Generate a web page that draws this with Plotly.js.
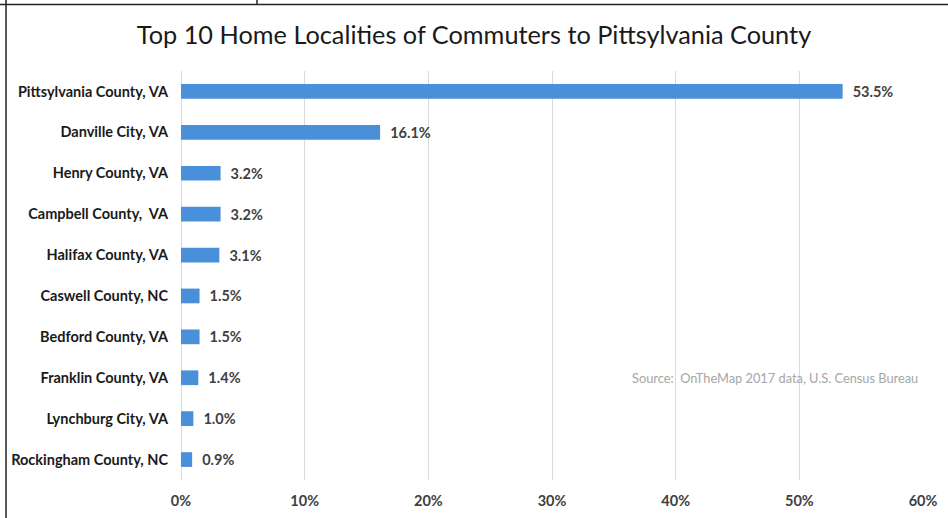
<!DOCTYPE html>
<html>
<head>
<meta charset="utf-8">
<script src="https://cdn.plot.ly/plotly-3.0.1.min.js"></script>
<style>
html,body{margin:0;padding:0;background:#fff;}
#chart{width:948px;height:518px;}
</style>
</head>
<body>
<div id="chart"></div>
<script>
// Data
const localities = [
  "Pittsylvania County, VA",
  "Danville City, VA",
  "Henry County, VA",
  "Campbell County,  VA",
  "Halifax County, VA",
  "Caswell County, NC",
  "Bedford County, VA",
  "Franklin County, VA",
  "Lynchburg City, VA",
  "Rockingham County, NC"
];
const shares = [53.5, 16.1, 3.2, 3.2, 3.1, 1.5, 1.5, 1.4, 1.0, 0.9];
const xTickVals = [0, 10, 20, 30, 40, 50, 60];
const xTickText = ["0%", "10%", "20%", "30%", "40%", "50%", "60%"];
const titleText = "Top 10 Home Localities of Commuters to Pittsylvania County";
const sourceText = "Source:  OnTheMap 2017 data, U.S. Census Bureau";

const W = 948, H = 518;
const M = {l: 181, r: 25, t: 71, b: 38};
const pw = W - M.l - M.r, ph = H - M.t - M.b;
const px = x => (x - M.l) / pw;
const py = y => 1 - (y - M.t) / ph;

const baseFont = "Lato, 'Open Sans', 'Liberation Sans', sans-serif";

const trace = {
  type: "bar",
  orientation: "h",
  y: localities,
  x: shares,
  marker: {color: "#4a8fd9"},
  width: 0.36,
  text: shares.map(v => "  " + v.toFixed(1) + "%"),
  textposition: "outside",
  constraintext: "none",
  cliponaxis: false,
  textfont: {family: baseFont, size: 14.5, color: "#404040", weight: "bold"},
  hoverinfo: "none"
};

const lineStyle = {color: "#222", width: 1.5};
const layout = {
  width: W, height: H,
  margin: M,
  paper_bgcolor: "#fff",
  plot_bgcolor: "#fff",
  showlegend: false,
  title: {
    text: titleText,
    x: 0.5, xref: "container", xanchor: "center",
    y: 1 - 35 / H, yref: "container", yanchor: "middle",
    font: {family: baseFont, size: 25.3, color: "#1a1a1a"}
  },
  xaxis: {
    range: [0, 60],
    tickvals: xTickVals,
    ticktext: xTickText,
    showgrid: true,
    gridcolor: "#d9d9d9",
    gridwidth: 1,
    zeroline: true,
    zerolinecolor: "#d9d9d9",
    zerolinewidth: 1,
    showline: false,
    ticks: "",
    ticklabelstandoff: 10,
    tickfont: {family: baseFont, size: 14.5, color: "#404040", weight: "bold"},
    fixedrange: true
  },
  yaxis: {
    autorange: "reversed",
    type: "category",
    showgrid: false,
    zeroline: false,
    showline: false,
    ticks: "",
    ticklabelstandoff: 12,
    tickfont: {family: baseFont, size: 14.5, color: "#1a1a1a", weight: "bold"},
    fixedrange: true
  },
  annotations: [{
    text: sourceText,
    xref: "paper", yref: "paper",
    x: px(920), y: py(378),
    xanchor: "right", yanchor: "middle",
    showarrow: false,
    font: {family: baseFont, size: 12.8, color: "#a6a6a6"}
  }],
  shapes: [
    {type: "line", xref: "paper", yref: "paper", x0: px(0), x1: px(948), y0: py(4.5), y1: py(4.5), line: lineStyle},
    {type: "line", xref: "paper", yref: "paper", x0: px(6), x1: px(6), y0: py(0), y1: py(518), line: lineStyle},
    {type: "line", xref: "paper", yref: "paper", x0: px(257), x1: px(257), y0: py(0), y1: py(4.5), line: lineStyle}
  ]
};

Plotly.newPlot("chart", [trace], layout, {displayModeBar: false, staticPlot: true});
</script>
</body>
</html>
